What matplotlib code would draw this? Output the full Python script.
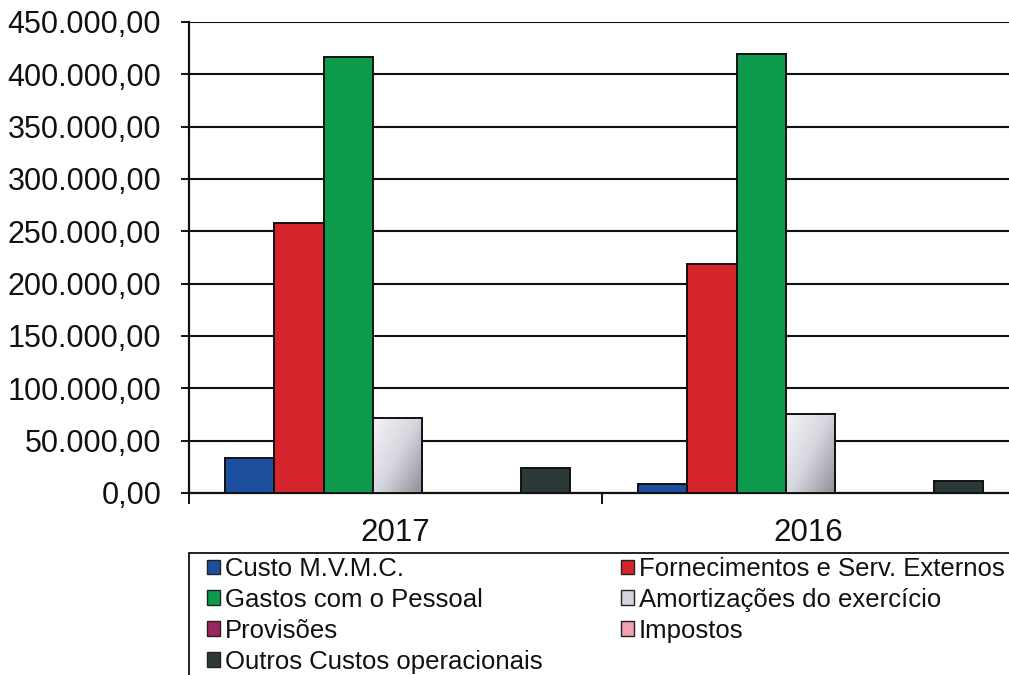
import matplotlib.pyplot as plt
from matplotlib.patches import Patch, Rectangle
from matplotlib.colors import LinearSegmentedColormap
from matplotlib.ticker import FuncFormatter, FixedLocator
import numpy as np

plt.rcParams['font.family'] = ['Liberation Sans', 'DejaVu Sans']

anos = ['2017', '2016']
series = [
    'Custo M.V.M.C.',
    'Fornecimentos e Serv. Externos',
    'Gastos com o Pessoal',
    'Amortizações do exercício',
    'Provisões',
    'Impostos',
    'Outros Custos operacionais',
]
custo_mvmc = [33400, 8600]
fornecimentos = [258000, 218800]
gastos_pessoal = [416500, 419400]
amortizacoes = [71700, 75500]
provisoes = [0, 0]
impostos = [0, 0]
outros_custos = [23900, 11500]
valores = [custo_mvmc, fornecimentos, gastos_pessoal, amortizacoes,
           provisoes, impostos, outros_custos]

cores = ['#1d4f9f', '#d5242c', '#0e9a4c', '#d4d4dc', '#9c2660', '#f0a2b2', '#2b3838']

W, H = 1009, 675
fig = plt.figure(figsize=(W / 100, H / 100), dpi=100)
fig.patch.set_facecolor('white')
ax = fig.add_axes([189 / W, 1 - 493 / H, (1015 - 189) / W, (493 - 22) / H])

x = np.arange(len(anos))
largura = 0.1195
barras = []
for i, (nome, vals, cor) in enumerate(zip(series, valores, cores)):
    pos = x + (i - 3) * largura + 0.005
    barras.append(ax.bar(pos, vals, width=largura, color=cor, edgecolor='#111111',
                         linewidth=1.4, zorder=3))

# degradê claro -> cinzento nas amortizações
cinza = LinearSegmentedColormap.from_list('cinza', ['#f4f4f8', '#d6d6de', '#8e8e98'])
gx, gy = np.meshgrid(np.linspace(0, 1, 60), np.linspace(1, 0, 60))
grad = 0.55 * gx + 0.45 * (1 - gy)
for b in barras[3]:
    x0, y0 = b.get_x(), b.get_y()
    im = ax.imshow(grad, cmap=cinza, aspect='auto', zorder=3.5,
                   extent=(x0, x0 + b.get_width(), y0, y0 + b.get_height()))
    im.set_clip_path(b)
    b.set_facecolor('none')
    b.set_zorder(4)

ax.set_xlim(-0.5, 1.5)
ax.set_ylim(0, 450000)
ax.set_yticks(np.arange(0, 450001, 50000))
ax.yaxis.set_major_formatter(FuncFormatter(
    lambda v, p: f'{v:,.2f}'.replace(',', 'X').replace('.', ',').replace('X', '.')))
ax.grid(axis='y', color='#111111', linewidth=1.5, zorder=1)
ax.set_axisbelow(True)

# separadores de categoria como ticks maiores, anos como ticks menores
ax.xaxis.set_major_locator(FixedLocator([-0.5, 0.5, 1.5]))
ax.xaxis.set_major_formatter(FuncFormatter(lambda v, p: ''))
ax.xaxis.set_minor_locator(FixedLocator(x))
ax.set_xticklabels(anos, minor=True)
ax.tick_params(axis='x', which='major', length=8, width=1.4, color='#111111')
ax.tick_params(axis='x', which='minor', length=0, pad=18, labelsize=22.5,
               labelcolor='#111111')
ax.tick_params(axis='y', length=6, width=1.4, color='#111111', pad=14,
               labelsize=22, labelcolor='#111111')

for s in ['top', 'right']:
    ax.spines[s].set_visible(False)
for s in ['left', 'bottom']:
    ax.spines[s].set_color('#111111')
    ax.spines[s].set_linewidth(1.6)

# moldura da legenda, que continua para lá da margem
fig.patches.append(Rectangle((189 / W, -0.05), (1030 - 189) / W, 0.05 + 1 - 553 / H,
                             transform=fig.transFigure, facecolor='none',
                             edgecolor='#111111', linewidth=1.3))

# legenda em duas colunas, preenchida por linhas
handles = [Patch(facecolor=c, edgecolor='#222222', linewidth=1.0) for c in cores]
ordem = [0, 2, 4, 6, 1, 3, 5]
leg = fig.legend([handles[i] for i in ordem], [series[i] for i in ordem],
                 loc='upper left', bbox_to_anchor=(207 / W, 1 - 557 / H),
                 ncol=2, fontsize=18.5, frameon=False,
                 handlelength=0.5, handleheight=0.5,
                 handletextpad=0.2, columnspacing=3.05, labelspacing=0.27,
                 borderpad=0, borderaxespad=0)
for t in leg.get_texts():
    t.set_color('#111111')

fig.savefig('out.png', dpi=100)
